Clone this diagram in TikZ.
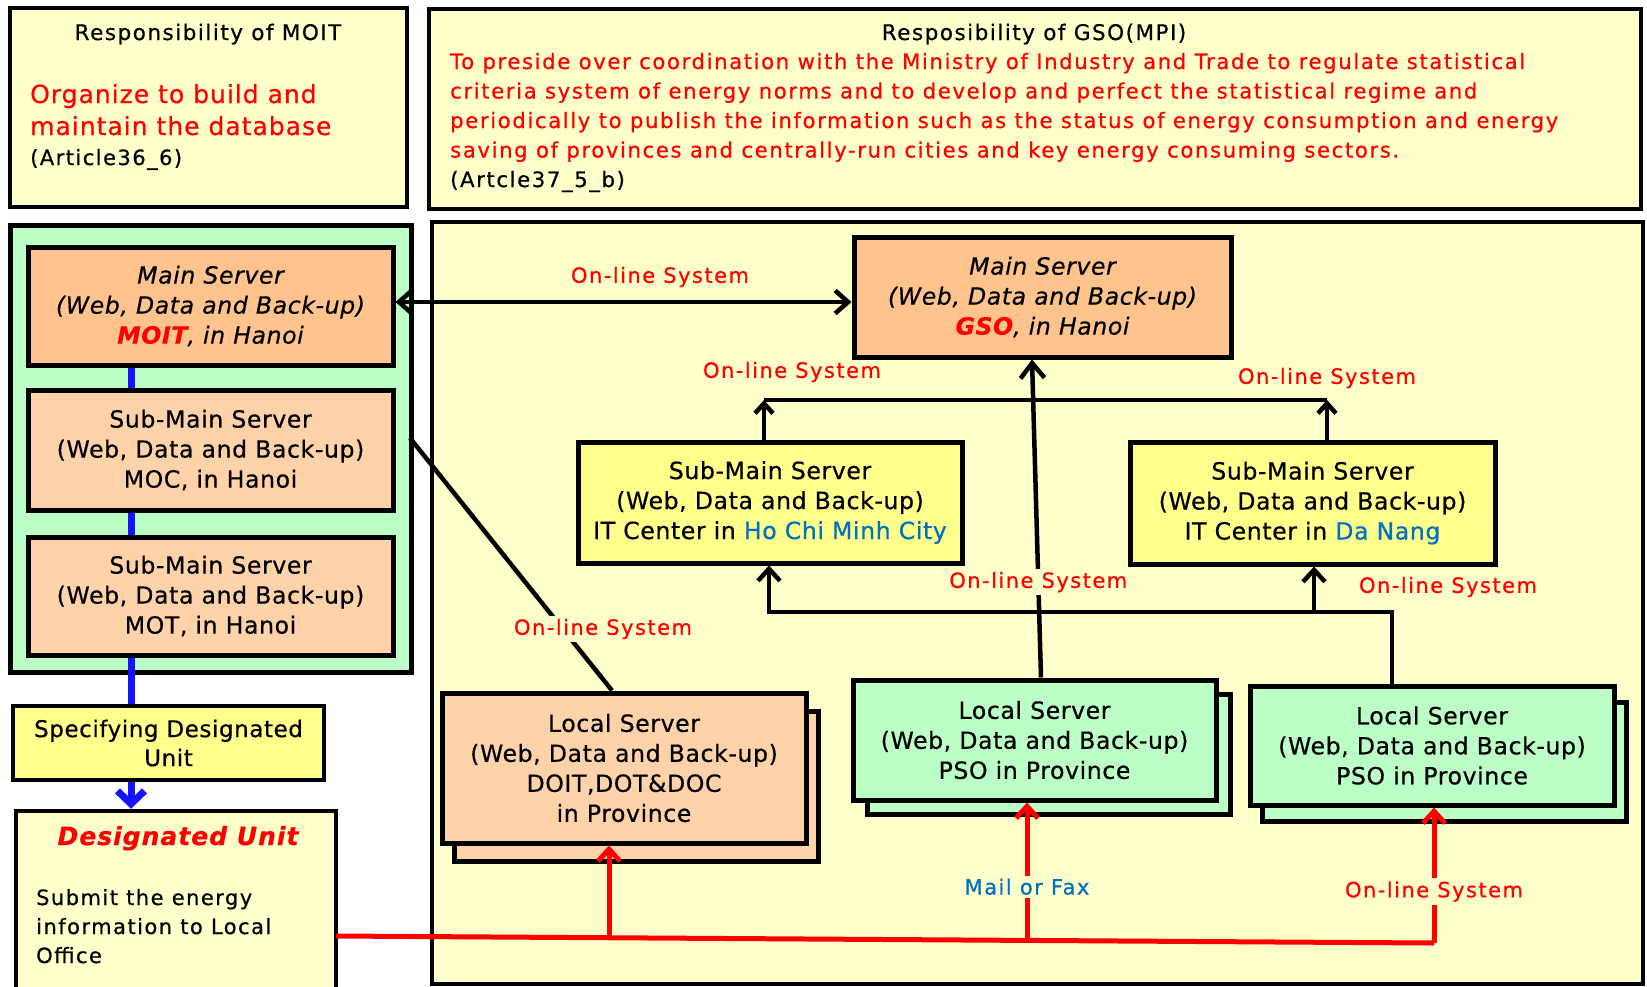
\documentclass[tikz,border=0pt]{standalone}
\usepackage{fontspec}
\setmainfont{DejaVu Sans}[LetterSpace=3,FakeBold=0.6]
\newfontfamily\fT{DejaVu Sans}[LetterSpace=7,FakeBold=0.6]
\newfontfamily\fG{DejaVu Sans}[LetterSpace=7.6,FakeBold=0.6]
\newfontfamily\fB{DejaVu Sans}[LetterSpace=2.5,FakeBold=0.6]
\newfontfamily\fR{DejaVu Sans}[LetterSpace=4,FakeBold=0.6]
\usetikzlibrary{arrows.meta,calc}
\definecolor{bgyel}{RGB}{255,255,204}
\definecolor{mint}{RGB}{187,255,199}
\definecolor{mainor}{RGB}{255,196,142}
\definecolor{peach}{RGB}{255,211,170}
\definecolor{boxyel}{RGB}{255,255,140}
\definecolor{tblue}{RGB}{0,112,192}
\definecolor{lblue}{RGB}{20,20,255}
\tikzset{
  panel/.style={draw, line width=3.5pt, inner sep=0pt},
  srv/.style={draw, line width=5pt, inner sep=0pt, align=center, font=\fB\fontsize{23.6}{30}\selectfont},
  blk/.style={line width=4.5pt, draw=black},
  redln/.style={line width=5pt, draw=red},
  bluln/.style={line width=7pt, draw=lblue},
  tipk/.style={-{Straight Barb[length=12pt,width=22pt]}},
  lab/.style={font=\fT\fontsize{21}{25}\selectfont, text=red, inner sep=3pt},
  ttl/.style={font=\fT\fontsize{21.5}{25}\selectfont, anchor=base, inner sep=0pt},
  para/.style={anchor=base west, inner sep=0pt},
}
\begin{document}
\begin{tikzpicture}[x=1pt,y=-1pt]
\useasboundingbox (0,0) rectangle (1647,986);
\fill[white] (0,0) rectangle (1647,986);

% responsibility panels
\node[panel, fill=bgyel, minimum width=397pt, minimum height=199pt] (respmoit) at (208.5,107.5) {};
\node[ttl] (tmoit) at (208,40) {Responsibility of MOIT};
\node[para, font=\fR\fontsize{25}{30}\selectfont, text=red] (rm1) at (30,103) {Organize to build and};
\node[para, font=\fR\fontsize{25}{30}\selectfont, text=red] (rm2) at (30,135) {maintain the database};
\node[para, font=\fT\fontsize{21}{25}\selectfont] (rm3) at (30,165) {(Article36\_6)};

\node[panel, fill=bgyel, minimum width=1212pt, minimum height=200pt] (respgso) at (1035,109) {};
\node[ttl] (tgso) at (1034,40) {Resposibility of GSO(MPI)};
\node[para, font=\fG\fontsize{21.2}{25}\selectfont, text=red] (rg1) at (450,69) {To preside over coordination with the Ministry of Industry and Trade to regulate statistical};
\node[para, font=\fG\fontsize{21.2}{25}\selectfont, text=red] (rg2) at (450,98.5) {criteria system of energy norms and to develop and perfect the statistical regime and};
\node[para, font=\fG\fontsize{21.2}{25}\selectfont, text=red] (rg3) at (450,128) {periodically to publish the information such as the status of energy consumption and energy};
\node[para, font=\fG\fontsize{21.2}{25}\selectfont, text=red] (rg4) at (450,157.5) {saving of provinces and centrally-run cities and key energy consuming sectors.};
\node[para, font=\fG\fontsize{21.2}{25}\selectfont] (rg5) at (450,187) {(Artcle37\_5\_b)};

% containers
\node[panel, line width=5pt, fill=mint, minimum width=401pt, minimum height=447pt] (green) at (210.5,448.5) {};
\node[panel, line width=4pt, fill=bgyel, minimum width=1211pt, minimum height=762pt] (big) at (1037.5,603) {};

% left column
\node[srv, fill=mainor, minimum width=365pt, minimum height=118pt] (moit) at (210.5,306)
  {\itshape Main Server\\\itshape (Web, Data and Back-up)\\\itshape{\bfseries\color{red}MOIT}, in Hanoi};
\node[srv, fill=peach, minimum width=365pt, minimum height=120pt] (moc) at (210.5,450)
  {Sub-Main Server\\(Web, Data and Back-up)\\MOC, in Hanoi};
\node[srv, fill=peach, minimum width=365pt, minimum height=118pt] (mot) at (210.5,596)
  {Sub-Main Server\\(Web, Data and Back-up)\\MOT, in Hanoi};
\node[srv, line width=4.5pt, fill=boxyel, minimum width=311pt, minimum height=74pt, font=\fB\fontsize{23}{29}\selectfont] (spec) at (168.5,743)
  {Specifying Designated\\Unit};
\node[srv, line width=4.5pt, fill=bgyel, minimum width=320pt, minimum height=189pt] (desig) at (176,905.5) {};
\node[anchor=base, inner sep=0pt, font=\fR\fontsize{25}{30}\selectfont\bfseries\itshape, text=red] (dtitle) at (178,845) {Designated Unit};
\node[para, font=\fT\fontsize{21}{25}\selectfont] (d1) at (36,905) {Submit the energy};
\node[para, font=\fT\fontsize{21}{25}\selectfont] (d2) at (36,934) {information to Local};
\node[para, font=\fT\fontsize{21}{25}\selectfont] (d3) at (36,963) {Office};

% right area
\node[srv, fill=mainor, minimum width=377pt, minimum height=120pt] (gso) at (1042.5,297)
  {\itshape Main Server\\\itshape (Web, Data and Back-up)\\\itshape{\bfseries\color{red}GSO}, in Hanoi};
\node[srv, fill=boxyel, minimum width=384pt, minimum height=121pt] (hcmc) at (770,502.5)
  {Sub-Main Server\\(Web, Data and Back-up)\\IT Center in {\color{tblue}Ho Chi Minh City}};
\node[srv, fill=boxyel, minimum width=365pt, minimum height=122pt] (danang) at (1312.5,503)
  {Sub-Main Server\\(Web, Data and Back-up)\\IT Center in {\color{tblue}Da Nang}};

\node[srv, fill=peach, minimum width=364pt, minimum height=150pt] (doitsh) at (636,786) {};
\node[srv, fill=peach, minimum width=364pt, minimum height=150pt] (doit) at (624,768)
  {Local Server\\(Web, Data and Back-up)\\DOIT,DOT\&DOC\\in Province};
\node[srv, fill=mint, minimum width=363pt, minimum height=120pt] (pso1sh) at (1048.5,754) {};
\node[srv, fill=mint, minimum width=363pt, minimum height=120pt] (pso1) at (1034.5,740)
  {Local Server\\(Web, Data and Back-up)\\PSO in Province};
\node[srv, fill=mint, minimum width=364pt, minimum height=119pt] (pso2sh) at (1444,761.5) {};
\node[srv, fill=mint, minimum width=364pt, minimum height=119pt] (pso2) at (1432,745.5)
  {Local Server\\(Web, Data and Back-up)\\PSO in Province};

% coordinates
\coordinate (hy) at (0,302);
\coordinate (bx) at (131,0);
\coordinate (ja) at (764,400);
\coordinate (jb) at (1327,400);
\coordinate (m1) at (1041,0);
\coordinate (m2) at (1032,0);
\coordinate (k1) at (1392,612);
\coordinate (k0) at (769,612);
\coordinate (kd) at (1314,612);
\coordinate (dg) at (410,438);
\coordinate (dgx) at (612,0);
\coordinate (rs) at (336,936);
\coordinate (r1) at (609,938.5);
\coordinate (r2) at (1027,940.5);
\coordinate (re) at (1434,943);

% blue chain
\draw[bluln] (moit.south -| bx) -- (moc.north -| bx);
\draw[bluln] (moc.south -| bx) -- (mot.north -| bx);
\draw[bluln] (mot.south -| bx) -- (spec.north -| bx);
\draw[bluln, -{Straight Barb[length=13pt,width=27pt]}] (spec.south -| bx) -- (desig.north -| bx);

% black connectors
\draw[blk, {Straight Barb[length=13pt,width=23pt]}-{Straight Barb[length=13pt,width=23pt]}] (moit.east |- hy) -- (gso.west |- hy);
\node[lab] (l1) at (660,277) {On-line System};

\draw[blk, -{Straight Barb[length=10pt,width=18pt]}] (hcmc.north -| ja) -- (ja);
\draw[blk, -{Straight Barb[length=10pt,width=18pt]}] (danang.north -| jb) -- (jb);
\draw[blk] (ja) -- (jb);
\node[lab] (l2) at (792,372) {On-line System};
\node[lab] (l3) at (1327,378) {On-line System};

\draw[blk, -{Straight Barb[length=15pt,width=24pt]}] (m1 |- pso1.north) -- node[pos=0.30, lab, fill=bgyel] (l4) {On-line System} (m2 |- gso.south);

\draw[blk, tipk] (k1 |- pso2.north) -- (k1) -- (k0) -- (hcmc.south -| k0);
\draw[blk, tipk] (kd) -- (danang.south -| kd);
\node[lab] (l5) at (1448,587) {On-line System};

\draw[blk] (dg) -- (dgx |- doit.north);
\node[lab, fill=bgyel] (l6) at (603,629) {On-line System};

% red connectors
\draw[redln] (rs) -- (re);
\draw[redln, tipk] (r1) -- (r1 |- doit.south);
\draw[redln, tipk] (r2) -- node[pos=0.39, lab, text=tblue, fill=bgyel] (l7) {Mail or Fax} (r2 |- pso1.south);
\draw[redln, tipk] (re) -- node[pos=0.38, lab, fill=bgyel] (l8) {On-line System} (re |- pso2.south);
\end{tikzpicture}
\end{document}
